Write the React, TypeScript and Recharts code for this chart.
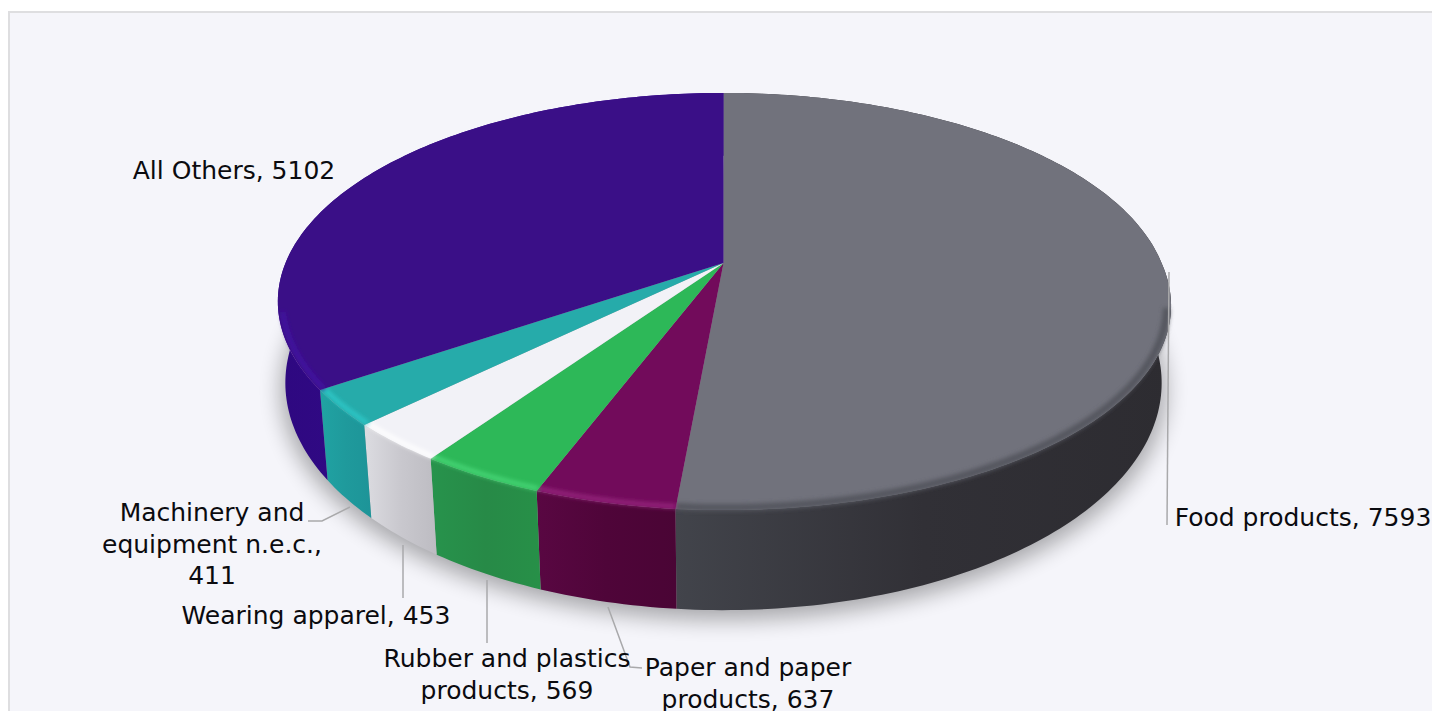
import React from "react";
import { PieChart, Pie } from "recharts";

const categories = [
  "Food products",
  "Paper and paper products",
  "Rubber and plastics products",
  "Wearing apparel",
  "Machinery and equipment n.e.c.",
  "All Others",
];
const values = [7593, 637, 569, 453, 411, 5102];
const labelLines = [
  ["Food products, 7593"],
  ["Paper and paper", "products, 637"],
  ["Rubber and plastics", "products, 569"],
  ["Wearing apparel, 453"],
  ["Machinery and", "equipment n.e.c.,", "411"],
  ["All Others, 5102"],
];

const topColors = ["#71727c", "#720b5b", "#2db858", "#f2f2f7", "#26abaa", "#3a0f87"];
const rimColors = ["#55565e", "#98287f", "#48d878", "#ffffff", "#2fcaca", "#4212a5"];
const rimWidths = [7, 4, 4, 4, 4, 4];
const sideColors = [
  ["#42444b", "#313036", "#2d2c31"],
  ["#590742", "#4f0539", "#4a0535"],
  ["#27934c", "#278a47", "#279048"],
  ["#dcdce1", "#c9c8ce", "#bdbcc2"],
  ["#20a3a3", "#1f9a9c", "#1d9498"],
  ["#3a0c99", "#360b8f", "#2e0880"],
];

const tableData = categories.map((name, i) => ({ name, value: values[i] }));

// where the labels sit, first line baseline and centre
const labelPos = [
  { x: 1303, y: 526 },
  { x: 748, y: 676 },
  { x: 507, y: 667 },
  { x: 316, y: 624 },
  { x: 212, y: 521 },
  { x: 234, y: 179 },
];
const leaderLines = [
  "M1169 272L1167 525",
  "M608 607L630 667L642 668",
  "M487 580L487 643",
  "M403 545L403 598",
  "M308 521L322 521L350 507",
  "",
];

const RAD = Math.PI / 180;
const TILT = 0.1846;

// top face of the disc, with a bit of perspective
function topPoint(cx: number, cy: number, r: number, deg: number) {
  const u = Math.cos(deg * RAD);
  const v = Math.sin(deg * RAD);
  const d = 1 + TILT * v;
  // front right of the rim bulges out a little in the original
  const bulge = u > 0 && v < 0 ? 10 * u * -v : 0;
  return [cx + (r * u) / d + bulge, cy - (r * 0.46 * v) / d];
}

// bottom edge of the disc
function bottomPoint(cx: number, cy: number, r: number, deg: number) {
  const u = Math.cos(deg * RAD);
  const v = Math.sin(deg * RAD);
  const d = 1 + 0.18 * v;
  return [cx + (r * 0.984 * u) / d, cy + 79 - (r * 0.502 * v) / d];
}

function arcPoints(fn: any, cx: number, cy: number, r: number, a0: number, a1: number) {
  const n = Math.max(2, Math.ceil(Math.abs(a1 - a0)));
  const pts: number[][] = [];
  for (let i = 0; i <= n; i++) pts.push(fn(cx, cy, r, a0 + ((a1 - a0) * i) / n));
  return pts;
}

const toPath = (pts: number[][]) =>
  pts.map((p, i) => (i ? "L" : "M") + p[0].toFixed(2) + " " + p[1].toFixed(2)).join("");

function SideShape(props: any) {
  const { cx, cy, outerRadius, startAngle, endAngle, name } = props;
  const i = categories.indexOf(name);
  const top = arcPoints(topPoint, cx, cy, outerRadius, startAngle, endAngle);
  const bottom = arcPoints(bottomPoint, cx, cy, outerRadius, endAngle, startAngle);
  return <path d={toPath([...top, ...bottom]) + "Z"} fill={`url(#side${i})`} />;
}

function TopShape(props: any) {
  const { cx, cy, outerRadius, startAngle, endAngle, name } = props;
  const i = categories.indexOf(name);
  const rim = arcPoints(topPoint, cx, cy, outerRadius * 0.99, startAngle, endAngle).filter(
    (p) => p[1] > cy + 45
  );
  const edge = arcPoints(topPoint, cx, cy, outerRadius, startAngle, endAngle);
  return (
    <g>
      <path d={"M" + cx + " " + cy + toPath(edge).replace("M", "L") + "Z"} fill={topColors[i]} />
      {rim.length > 1 && (
        <path d={toPath(rim)} fill="none" stroke={rimColors[i]} strokeWidth={rimWidths[i]} filter="url(#rimBlur)" />
      )}
    </g>
  );
}

function renderLabel(props: any) {
  const i = categories.indexOf(props.name);
  const pos = labelPos[i];
  return (
    <g key={props.name}>
      {leaderLines[i] && <path d={leaderLines[i]} fill="none" stroke="#a9a9ab" strokeWidth={1.5} />}
      <text
        x={pos.x}
        y={pos.y}
        textAnchor="middle"
        fontFamily="'DejaVu Sans', sans-serif"
        fontSize={25}
        fill="#0b0b0f"
      >
        {labelLines[i].map((line, k) => (
          <tspan key={k} x={pos.x} dy={k ? 31.5 : 0}>
            {line}
          </tspan>
        ))}
      </text>
    </g>
  );
}

const CX = 723.5;
const CY = 263;
const R = 438;

export default function App() {
  const shadow = toPath(arcPoints(bottomPoint, CX, CY + 7, R + 4, 0, 360)) + "Z";
  return (
    <div style={{ position: "absolute", left: 0, top: 0, width: 1432, height: 711, overflow: "hidden", background: "#fff" }}>
      <div
        style={{
          position: "absolute",
          left: 8,
          top: 11,
          width: 1500,
          height: 800,
          background: "#f5f5fa",
          border: "2px solid #dedee0",
        }}
      />
      <div style={{ position: "absolute", left: 0, top: 0 }}>
        <PieChart width={1432} height={711} margin={{ top: 0, right: 0, bottom: 0, left: 0 }}>
          <defs>
            <filter id="rimBlur" filterUnits="userSpaceOnUse" x={0} y={0} width={1432} height={711}>
              <feGaussianBlur stdDeviation={2} />
            </filter>
            <filter id="shadowBlur" filterUnits="userSpaceOnUse" x={0} y={0} width={1432} height={711}>
              <feGaussianBlur stdDeviation={11} />
            </filter>
            {sideColors.map((stops, i) => (
              <linearGradient key={i} id={`side${i}`} x1="0" y1="0" x2="1" y2="0">
                <stop offset="0" stopColor={i === 5 ? stops[2] : stops[0]} />
                <stop offset="0.5" stopColor={stops[1]} />
                <stop offset="1" stopColor={i === 5 ? stops[0] : stops[2]} />
              </linearGradient>
            ))}
          </defs>
          <path d={shadow} fill="#000" opacity={0.32} filter="url(#shadowBlur)" />
          <Pie
            data={tableData}
            dataKey="value"
            nameKey="name"
            cx={CX}
            cy={CY}
            outerRadius={R}
            startAngle={90}
            endAngle={-270}
            stroke="none"
            shape={SideShape}
            label={false}
            labelLine={false}
            isAnimationActive={false}
          />
          <Pie
            data={tableData}
            dataKey="value"
            nameKey="name"
            cx={CX}
            cy={CY}
            outerRadius={R}
            startAngle={90}
            endAngle={-270}
            stroke="none"
            shape={TopShape}
            label={renderLabel}
            labelLine={false}
            isAnimationActive={false}
          />
        </PieChart>
      </div>
    </div>
  );
}
